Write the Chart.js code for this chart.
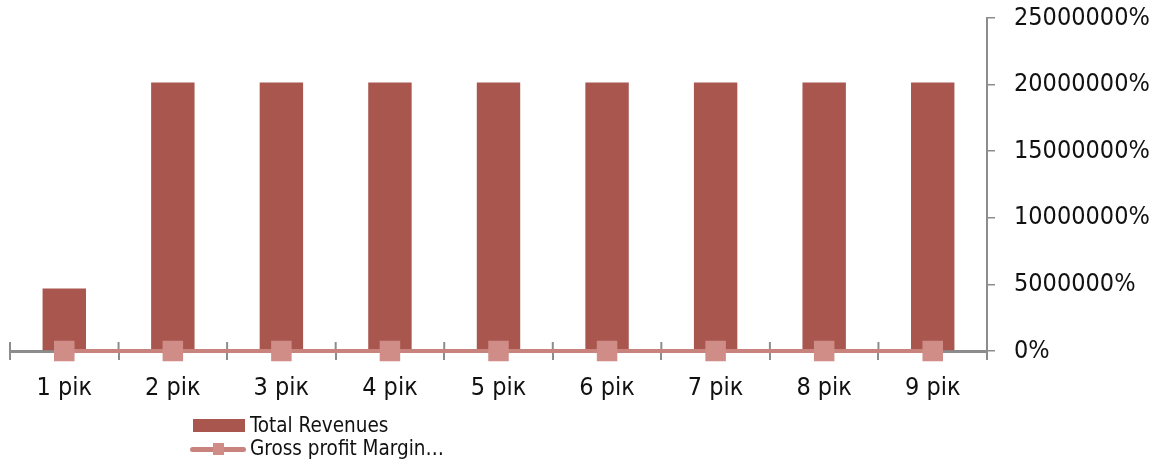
<!DOCTYPE html>
<html>
<head>
<meta charset="utf-8">
<script src="https://cdn.jsdelivr.net/npm/chart.js@4"></script>
<style>
  body { margin: 0; background: #fff; }
  #wrap { position: relative; width: 1171px; height: 465px; }
  #legend { position: absolute; left: 190px; top: 414px; font: 20.5px "DejaVu Sans Condensed", "DejaVu Sans", sans-serif; color: #111; }
  .item { position: relative; height: 23px; padding-left: 60px; line-height: 23px; white-space: nowrap; }
  .swatch-bar { position: absolute; left: 3px; top: 5px; width: 52px; height: 13px; background: #A9564F; }
  .swatch-line { position: absolute; left: 0; top: 10px; width: 56px; height: 5px; border-radius: 3px; background: #C9837D; }
  .swatch-mark { position: absolute; left: 23px; top: 6px; width: 11px; height: 12px; background: #D08D87; }
</style>
</head>
<body>
<div id="wrap">
  <canvas id="chart" width="1171" height="465"></canvas>
  <div id="legend">
    <div class="item"><span class="swatch-bar"></span>Total Revenues</div>
    <div class="item"><span class="swatch-line"></span><span class="swatch-mark"></span>Gross profit Margin…</div>
  </div>
</div>
<script>
const labels = ['1 рік', '2 рік', '3 рік', '4 рік', '5 рік', '6 рік', '7 рік', '8 рік', '9 рік'];
const totalRevenues = [4700000, 20150000, 20150000, 20150000, 20150000, 20150000, 20150000, 20150000, 20150000];
const grossMargin = [0, 0, 0, 0, 0, 0, 0, 0, 0];
const yMax = 25000000;
const yStep = 5000000;

const axisGray = '#8C8C8C';

// small tick marks above the category axis (Excel draws them crossing the axis)
const crossTicks = {
  id: 'crossTicks',
  beforeDatasetsDraw(chart) {
    const x = chart.scales.x;
    const ctx = chart.ctx;
    const n = x.ticks.length;
    ctx.save();
    ctx.strokeStyle = axisGray;
    ctx.lineWidth = 2;
    for (let i = 0; i <= n; i++) {
      const px = x.left + i * (x.width / n);
      ctx.beginPath();
      ctx.moveTo(px, x.top - 9);
      ctx.lineTo(px, x.top);
      ctx.stroke();
    }
    ctx.restore();
  }
};

Chart.defaults.font.family = '"DejaVu Sans Condensed", "DejaVu Sans", sans-serif';
Chart.defaults.color = '#111';

new Chart(document.getElementById('chart'), {
  type: 'bar',
  data: {
    labels: labels,
    datasets: [{
      type: 'line',
      label: 'Gross profit Margin…',
      data: grossMargin,
      borderColor: '#C9837D',
      borderWidth: 4,
      pointStyle: 'rect',
      pointRadius: 14.5,
      pointBackgroundColor: '#D08D87',
      pointBorderColor: '#D08D87',
      pointBorderWidth: 0,
      clip: false,
      order: 0
    }, {
      label: 'Total Revenues',
      data: totalRevenues,
      backgroundColor: '#A9564F',
      categoryPercentage: 1,
      barPercentage: 0.4,
      order: 1
    }]
  },
  options: {
    responsive: false,
    animation: false,
    layout: { autoPadding: false, padding: { left: 10, top: 18, right: 0, bottom: 0 } },
    plugins: { legend: { display: false }, tooltip: { enabled: false } },
    scales: {
      x: {
        offset: true,
        grid: { offset: true, drawOnChartArea: false, tickLength: 9, color: axisGray, lineWidth: 2 },
        border: { color: axisGray, width: 3 },
        ticks: { font: { size: 25 }, padding: 13, maxRotation: 0 },
        afterFit(scale) {
          scale.height = 114;
          scale.paddingLeft = 0;
          scale.paddingRight = 0;
        }
      },
      y: {
        position: 'right',
        min: 0,
        max: yMax,
        grid: { drawOnChartArea: false, tickLength: 8, color: axisGray, lineWidth: 1.5 },
        border: { color: axisGray, width: 2 },
        ticks: {
          stepSize: yStep,
          font: { size: 25 },
          padding: 19,
          callback: v => v + '%'
        },
        afterFit(scale) {
          scale.width = 184;
          scale.paddingTop = 0;
          scale.paddingBottom = 0;
        }
      }
    }
  },
  plugins: [crossTicks]
});
</script>
</body>
</html>
